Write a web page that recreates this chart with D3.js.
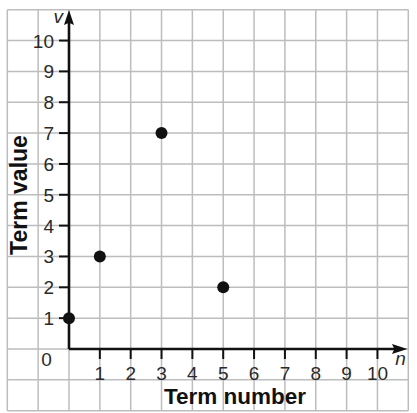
<!DOCTYPE html>
<html><head><meta charset="utf-8">
<script src="https://cdn.jsdelivr.net/npm/d3@7"></script>
<style>html,body{margin:0;padding:0;background:#fff;}svg{display:block;}</style>
</head><body>
<svg id="c" width="417" height="413"></svg>
<script>
const termNumbers = [0, 1, 3, 5];
const termValues = [1, 3, 7, 2];
const xTicks = [1,2,3,4,5,6,7,8,9,10];
const yTicks = [1,2,3,4,5,6,7,8,9,10];
const gridX = d3.range(-2, 12);
const gridY = d3.range(-2, 12);
const xLabel = "Term number";
const yLabel = "Term value";

const svg = d3.select("#c");
const x = d3.scaleLinear().domain([-2, 11]).range([7.3, 408.3]);
const y = d3.scaleLinear().domain([-2, 11]).range([410.7, 9.7]);

// grid
svg.append("g").selectAll("line").data(gridX).join("line")
  .attr("x1", d => x(d)).attr("x2", d => x(d))
  .attr("y1", y(11)).attr("y2", y(-2))
  .attr("stroke", "#bdbdbd").attr("stroke-width", 1.5);
svg.append("g").selectAll("line").data(gridY).join("line")
  .attr("y1", d => y(d)).attr("y2", d => y(d))
  .attr("x1", x(-2)).attr("x2", x(11))
  .attr("stroke", "#bdbdbd").attr("stroke-width", 1.5);

// axes
const ax = svg.append("g");
ax.append("line").attr("x1", x(0)).attr("x2", x(10.75)).attr("y1", y(0)).attr("y2", y(0))
  .attr("stroke", "#111").attr("stroke-width", 2.6);
ax.append("line").attr("x1", x(0)).attr("x2", x(0)).attr("y1", y(0)).attr("y2", y(10.6))
  .attr("stroke", "#111").attr("stroke-width", 2.6);
// arrows
ax.append("path").attr("d", `M${x(10.97)},${y(0)} L${x(10.47)},${y(0)-5} L${x(10.55)},${y(0)} L${x(10.47)},${y(0)+5} Z`).attr("fill", "#111");
ax.append("path").attr("d", `M${x(0)},${y(10.99)} L${x(0)-5},${y(10.5)} L${x(0)},${y(10.58)} L${x(0)+5},${y(10.5)} Z`).attr("fill", "#111");

// ticks
ax.append("g").selectAll("line").data(xTicks).join("line")
  .attr("x1", d => x(d)).attr("x2", d => x(d))
  .attr("y1", y(0)).attr("y2", y(0) + 10)
  .attr("stroke", "#111").attr("stroke-width", 2);
ax.append("g").selectAll("line").data(yTicks).join("line")
  .attr("y1", d => y(d)).attr("y2", d => y(d))
  .attr("x1", x(0) - 10).attr("x2", x(0))
  .attr("stroke", "#111").attr("stroke-width", 2);

const font = "Liberation Sans, Arial, sans-serif";
ax.append("g").selectAll("text").data(xTicks).join("text")
  .attr("x", d => x(d)).attr("y", y(0) + 30.5)
  .attr("text-anchor", "middle").attr("font-family", font).attr("font-size", 19)
  .attr("fill", "#2a2a2a").text(d => d);
ax.append("g").selectAll("text").data(yTicks).join("text")
  .attr("x", x(0) - 15).attr("y", d => y(d) + 7)
  .attr("text-anchor", "end").attr("font-family", font).attr("font-size", 19)
  .attr("fill", "#2a2a2a").text(d => d);
ax.append("text").attr("x", x(-0.73)).attr("y", y(0) + 17)
  .attr("text-anchor", "middle").attr("font-family", font).attr("font-size", 19)
  .attr("fill", "#2a2a2a").text("0");
ax.append("text").attr("x", x(-0.35)).attr("y", 23)
  .attr("text-anchor", "middle").attr("font-family", font).attr("font-size", 19)
  .attr("font-style", "italic").attr("fill", "#2a2a2a").text("v");
ax.append("text").attr("x", x(10.75)).attr("y", y(0) + 15.5)
  .attr("text-anchor", "middle").attr("font-family", font).attr("font-size", 19)
  .attr("font-style", "italic").attr("fill", "#2a2a2a").text("n");

// axis titles
svg.append("text").attr("x", 235).attr("y", 404)
  .attr("text-anchor", "middle").attr("font-family", font).attr("font-size", 22.5)
  .attr("font-weight", "bold").attr("fill", "#111").text(xLabel);
svg.append("text").attr("transform", "translate(27,195) rotate(-90)")
  .attr("text-anchor", "middle").attr("font-family", font).attr("font-size", 23)
  .attr("font-weight", "bold").attr("fill", "#111").text(yLabel);

// points
svg.append("g").selectAll("circle").data(termNumbers).join("circle")
  .attr("cx", d => x(d)).attr("cy", (d, i) => y(termValues[i]))
  .attr("r", 6).attr("fill", "#111");
</script>
</body></html>
